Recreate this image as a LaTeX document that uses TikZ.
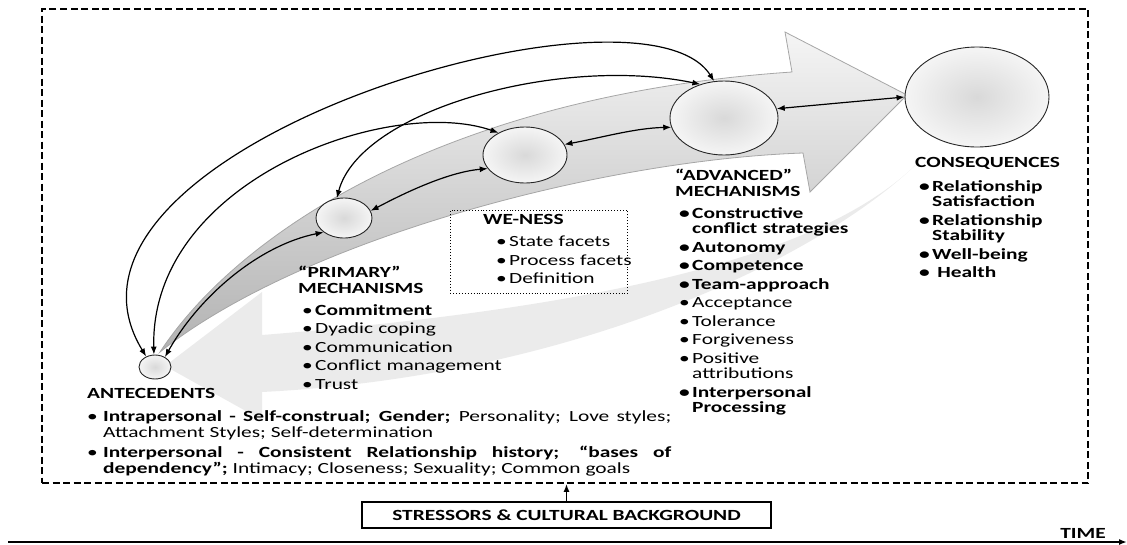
\documentclass[tikz,border=0pt]{standalone}
\usepackage{fontspec}
\setmainfont{Carlito}[FakeStretch=1.38]
\usetikzlibrary{shapes.geometric,arrows.meta}
\newcommand{\dfont}{\fontsize{15.5}{15.5}\selectfont}
\newcommand{\itm}{\hspace*{4pt}\makebox[13pt][l]{\textbullet}}
\newcommand{\cnt}{\hspace*{17pt}}

\begin{document}
\begin{tikzpicture}[x=1pt, y=-1pt, >={Latex[length=8pt,width=6pt]},
    circ/.style={ellipse, draw=black!85, line width=0.9pt, inner sep=0pt, inner color=gray!30, outer color=gray!8},
    con/.style={<->, line width=1.2pt},
    txt/.style={font=\dfont, inner sep=0pt, anchor=north west, align=left, text width=#1},
    txt/.default=220,
    boxed/.style={draw, line width=1.5pt, inner sep=0pt}]

    \useasboundingbox (0,0) rectangle (1127,544);

    \fill[black!8] (930,150) .. controls (860,230) and (700,300) .. (262,335) -- (262,292) -- (165,366) -- (262,420) -- (262,392) .. controls (600,375) and (850,240) .. cycle;
    \draw[draw=gray!70, line width=0.8pt, top color=gray!8, bottom color=gray!60] (160,352) .. controls (240,230) and (450,95) .. (792,72) -- (785,32) -- (907,95) -- (810,192) -- (803,153) .. controls (600,160) and (300,240) .. cycle;

    \node[circ, minimum width=32, minimum height=24] (ante) at (155,367) {};
    \node[circ, minimum width=56, minimum height=40] (prim) at (344,218) {};
    \node[circ, minimum width=84, minimum height=56] (wen) at (525,155) {};
    \node[circ, minimum width=108, minimum height=74] (adv) at (724,118) {};
    \node[circ, minimum width=144, minimum height=100] (cons) at (977,97) {};

    \draw[con] (ante.130) .. controls (20,150) and (640,-35) .. (adv.105);
    \draw[con] (ante.95) .. controls (150,180) and (390,95) .. (wen.140);
    \draw[con] (prim.110) .. controls (360,110) and (560,55) .. (adv.125);
    \draw[con] (ante.45) .. controls (200,295) and (260,245) .. (prim.215);
    \draw[con] (prim.15) .. controls (410,190) and (450,172) .. (wen.200);
    \draw[con] (wen.15) .. controls (600,138) and (635,128) .. (adv.190);
    \draw[con] (adv.10) -- (cons.180);

    \node[draw, dotted, line width=0.9pt, minimum width=177, minimum height=83, anchor=north west, inner sep=0pt] (wenbox) at (450,210) {};
    \node[txt=170] (wentxt) at (483,214.5) {{\bfseries WE-NESS}\\[6.5pt]
        \hspace*{9pt}\itm State facets\\[3pt]
        \hspace*{9pt}\itm Process facets\\[3pt]
        \hspace*{9pt}\itm Definition};

    \node[txt=230] (primtxt) at (298,266) {{\bfseries ``PRIMARY''\\MECHANISMS}\\[6.5pt]
        \itm{\bfseries Commitment}\\[3pt]
        \itm Dyadic coping\\[3pt]
        \itm Communication\\[3pt]
        \itm Conflict management\\[3pt]
        \itm Trust};

    \node[txt=220] (advtxt) at (675,169) {{\bfseries ``ADVANCED''\\MECHANISMS}\\[6.5pt]
        {\bfseries\itm Constructive\\\cnt conflict strategies}\\[3pt]
        {\bfseries\itm Autonomy}\\[3pt]
        {\bfseries\itm Competence}\\[3pt]
        {\bfseries\itm Team-approach}\\[3pt]
        \itm Acceptance\\[3pt]
        \itm Tolerance\\[3pt]
        \itm Forgiveness\\[3pt]
        \itm Positive\\\cnt attributions\\[3pt]
        {\bfseries\itm Interpersonal\\\cnt Processing}};

    \node[txt=170] (constxt) at (915,157) {{\bfseries CONSEQUENCES\\[8.5pt]
        \itm Relationship\\\cnt Satisfaction\\[3pt]
        \itm Relationship\\\cnt Stability\\[3pt]
        \itm Well-being\\[3pt]
        \itm\ Health}};

    \node[txt=584, align=justify] (antetxt) at (87,388.5) {{\bfseries ANTECEDENTS}\par\vspace{7.5pt}
        \hangindent=16pt\hangafter=1\noindent\makebox[16pt][l]{\textbullet}{\bfseries Intrapersonal - Self-construal; Gender;} Personality; Love styles;\linebreak Attachment Styles; Self-determination\par\vspace{5pt}
        \hangindent=16pt\hangafter=1\noindent\makebox[16pt][l]{\textbullet}{\bfseries Interpersonal - Consistent Relationship history; ``bases of\linebreak dependency'';} Intimacy; Closeness; Sexuality; Common goals\par};

    \node[draw, dashed, line width=1.8pt, dash pattern=on 7pt off 3.5pt, minimum width=1046, minimum height=474, inner sep=0pt] (frame) at (565,246) {};

    \node[boxed, minimum width=409, minimum height=26, font=\dfont\bfseries] (stress) at (566.5,515) {STRESSORS \& CULTURAL BACKGROUND};
    \draw[->, line width=1.4pt] (stress.north) -- (stress.north |- frame.south);

    \coordinate (t0) at (8,542);
    \coordinate (t1) at (1127,542);
    \draw[->, line width=1.6pt] (t0) -- (t1);
    \node[font=\dfont\bfseries, anchor=base east, inner sep=0pt] (time) at (1106,538) {TIME};
\end{tikzpicture}
\end{document}
